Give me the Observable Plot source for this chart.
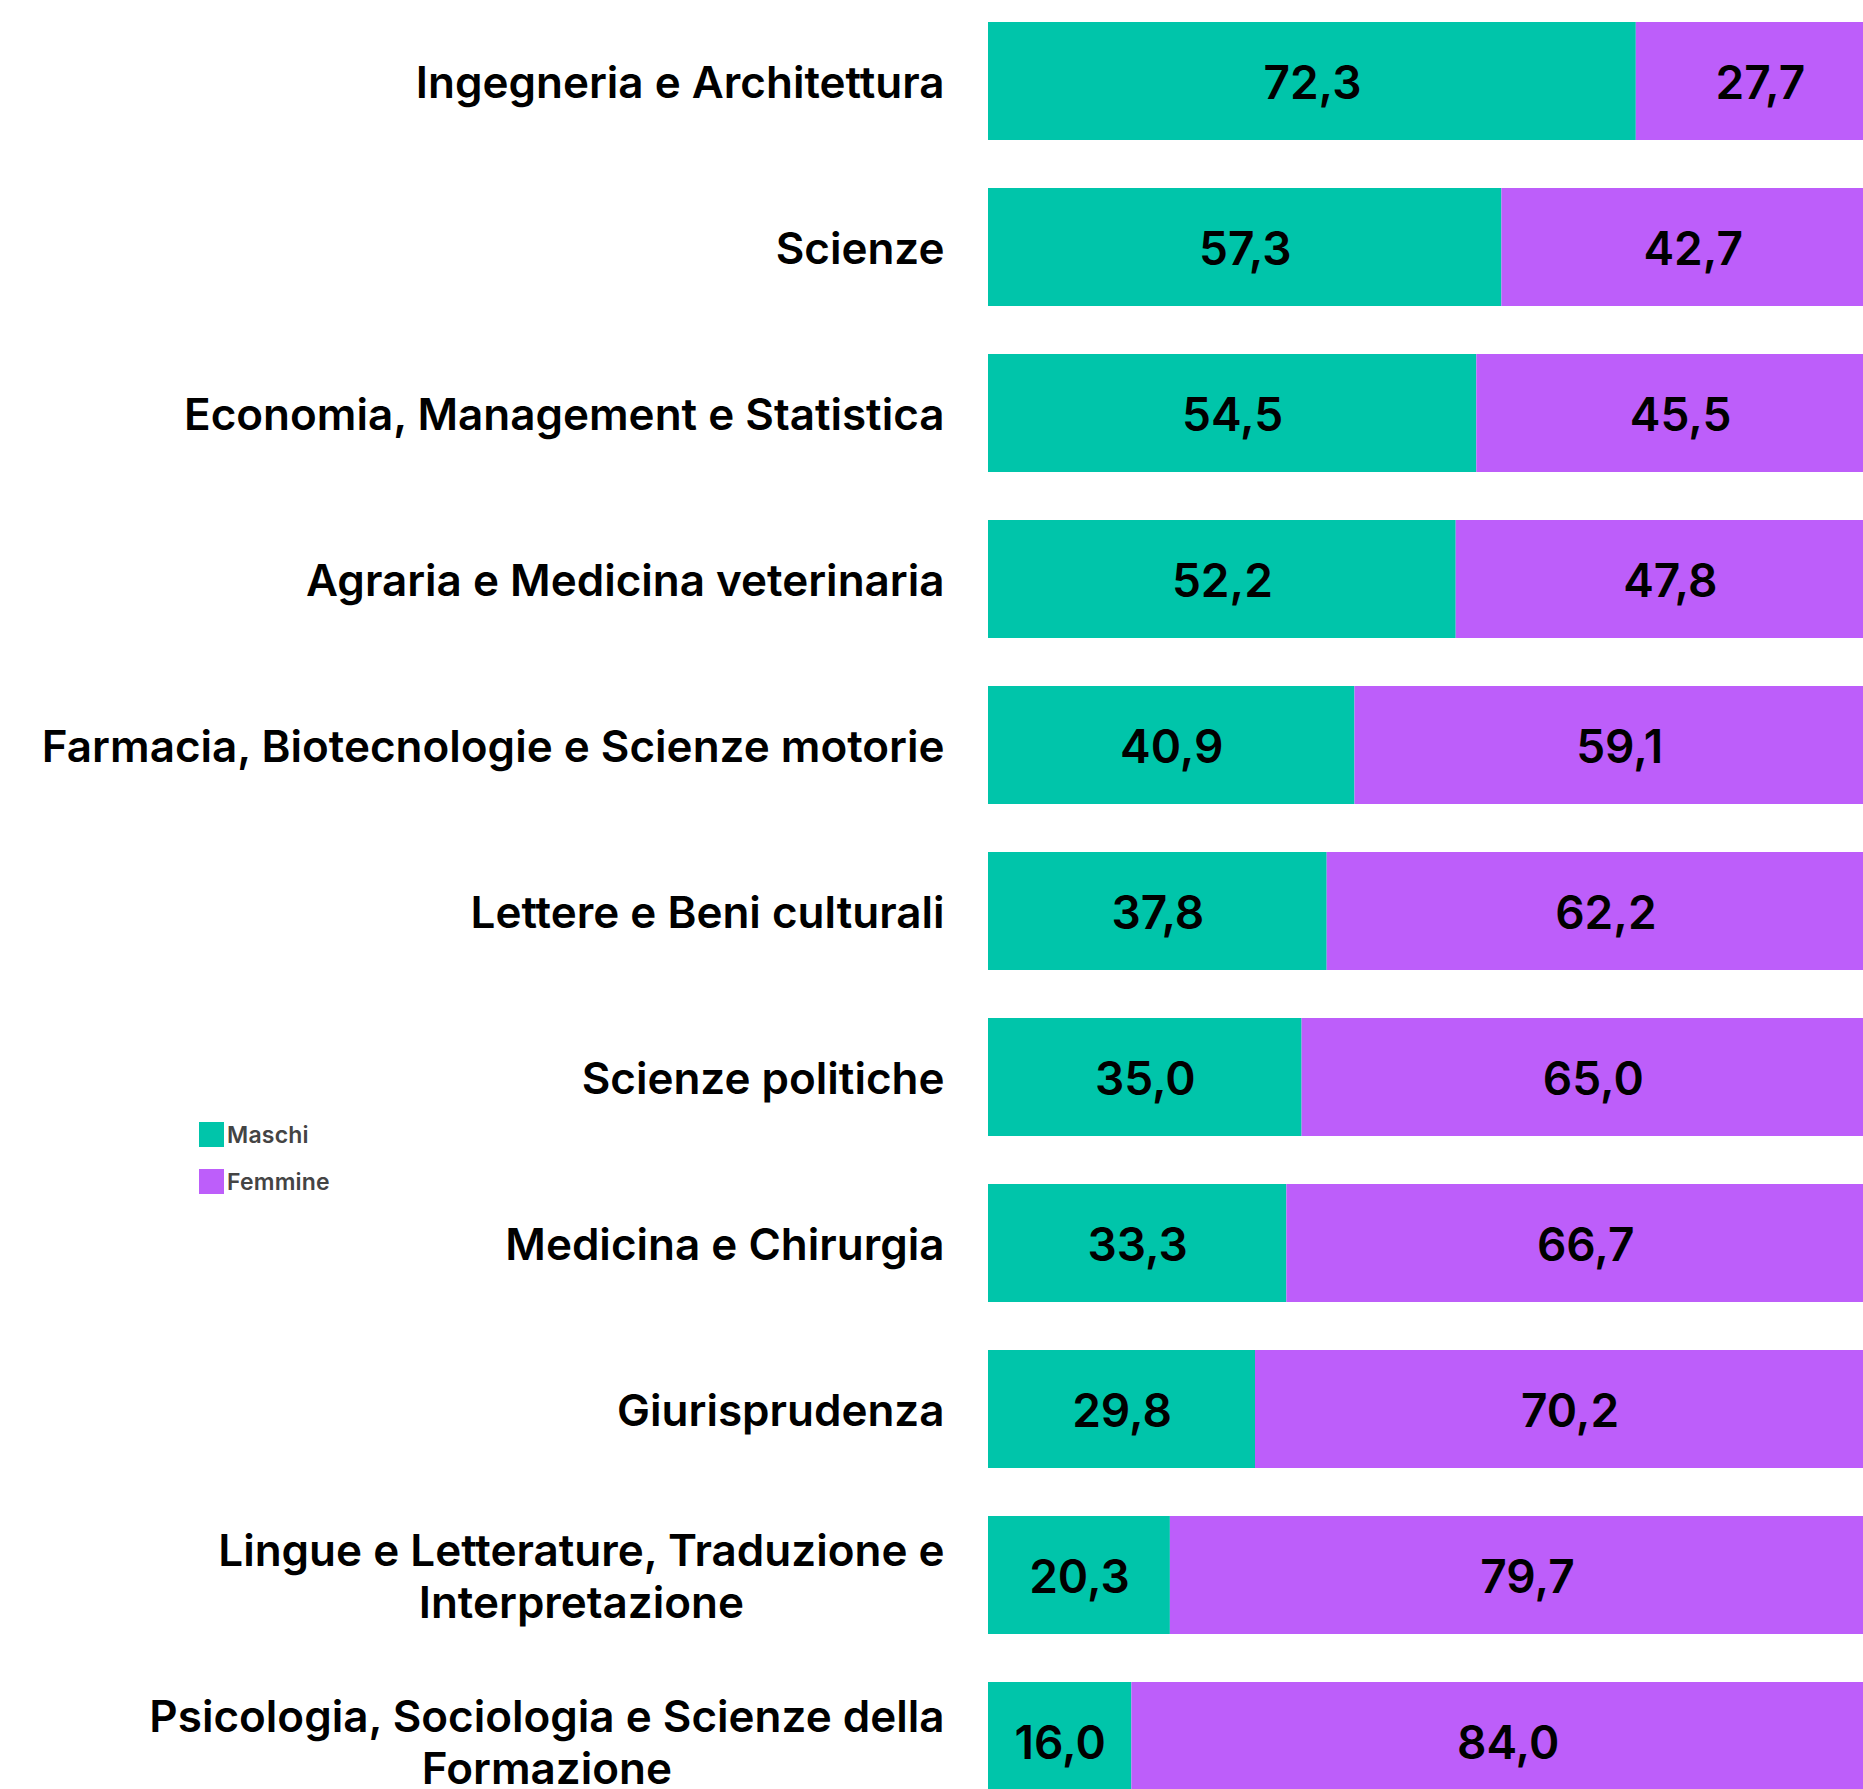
<!DOCTYPE html>
<html>
<head>
<meta charset="utf-8">
<script src="https://cdn.jsdelivr.net/npm/d3@7"></script>
<script src="https://cdn.jsdelivr.net/npm/@observablehq/plot@0.6"></script>
<style>
  html, body { margin: 0; padding: 0; background: #fff; overflow: hidden; }
  #wrap { position: relative; width: 1863px; height: 1789px; overflow: hidden; }
  #legend { position: absolute; left: 199px; top: 1122px; font-family: Inter, sans-serif; }
  .item { display: flex; align-items: center; height: 25px; margin-bottom: 22px; }
  .sw { width: 25px; height: 25px; margin-right: 3px; }
  .lab { font-size: 23px; font-weight: 600; color: #444; letter-spacing: 0.2px; }
</style>
</head>
<body>
<div id="wrap"></div>
<script>
const categories = [
  "Ingegneria e Architettura",
  "Scienze",
  "Economia, Management e Statistica",
  "Agraria e Medicina veterinaria",
  "Farmacia, Biotecnologie e Scienze motorie",
  "Lettere e Beni culturali",
  "Scienze politiche",
  "Medicina e Chirurgia",
  "Giurisprudenza",
  "Lingue e Letterature, Traduzione e\nInterpretazione",
  "Psicologia, Sociologia e Scienze della\nFormazione"
];
const series = ["Maschi", "Femmine"];
const colors = ["#00c5aa", "#bd5efa"];
const maschi  = [72.3, 57.3, 54.5, 52.2, 40.9, 37.8, 35.0, 33.3, 29.8, 20.3, 16.0];
const femmine = [27.7, 42.7, 45.5, 47.8, 59.1, 62.2, 65.0, 66.7, 70.2, 79.7, 84.0];

const rows = [];
categories.forEach((c, i) => {
  rows.push({cat: c, sesso: "Maschi", value: maschi[i]});
  rows.push({cat: c, sesso: "Femmine", value: femmine[i]});
});
const fmt = v => v.toFixed(1).replace(".", ",");

const labelSize = 44;
const labelWeight = 600;
const labelSpacing = 2.1;
const gap = 44;

const single = categories.filter(c => !c.includes("\n"));
const multi = categories.filter(c => c.includes("\n"));
const labelStyle = {
  frameAnchor: "left", textAnchor: "end", dx: -gap,
  lineHeight: 1.19,
  fontSize: labelSize, fontWeight: labelWeight, fill: "#000",
  style: {letterSpacing: labelSpacing + "px"}
};

const chart = Plot.plot({
  width: 1884,
  height: 1822,
  marginLeft: 988,
  marginRight: 0,
  marginTop: 0,
  marginBottom: 0,
  style: {fontFamily: "Inter, sans-serif", background: "#fff", overflow: "visible", maxWidth: "none"},
  x: {domain: [0, 100], axis: null},
  y: {domain: categories, axis: null, paddingInner: 0.292, paddingOuter: 0.129},
  color: {domain: series, range: colors},
  marks: [
    Plot.barX(rows, {x: "value", y: "cat", fill: "sesso", order: series}),
    Plot.text(rows, Plot.stackX({
      x: "value", y: "cat", z: "sesso", order: series,
      text: d => fmt(d.value),
      dy: 3,
      fontSize: 46, fontWeight: 600, fill: "#000",
      style: {letterSpacing: "3px"}
    })),
    Plot.text(single, {y: d => d, text: d => d, ...labelStyle}),
    Plot.text(multi, {y: d => d, text: d => d, ...labelStyle, className: "multiline"})
  ]
});
const wrap = document.getElementById("wrap");
wrap.appendChild(chart);

// center the lines of the wrapped labels within their right-aligned block
chart.querySelectorAll("g.multiline text").forEach(t => {
  const w = t.getBBox().width;
  t.setAttribute("text-anchor", "middle");
  const tr = t.getAttribute("transform") || "";
  t.setAttribute("transform", tr + ` translate(${-w / 2},0)`);
});

const legend = document.createElement("div");
legend.id = "legend";
series.forEach((s, i) => {
  const it = document.createElement("div");
  it.className = "item";
  const sw = document.createElement("div");
  sw.className = "sw";
  sw.style.background = colors[i];
  const lb = document.createElement("span");
  lb.className = "lab";
  lb.textContent = s;
  it.appendChild(sw); it.appendChild(lb);
  legend.appendChild(it);
});
wrap.appendChild(legend);
</script>
</body>
</html>
